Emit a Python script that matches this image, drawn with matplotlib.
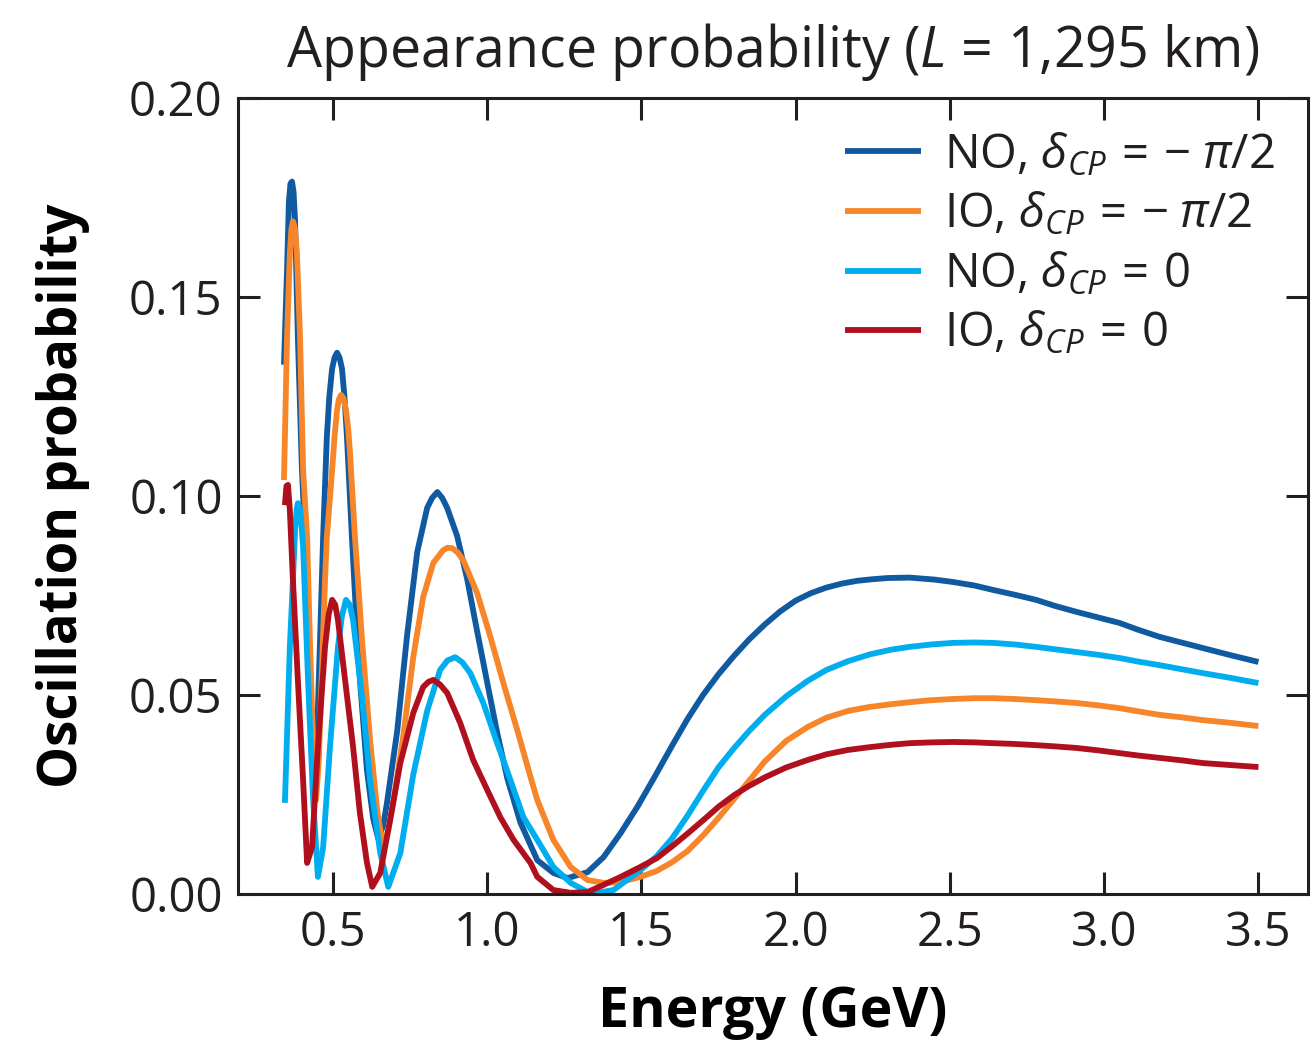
import matplotlib
matplotlib.use("Agg")
import matplotlib.pyplot as plt
from matplotlib.ticker import FixedLocator, FormatStrFormatter

# ---- data: (energy in GeV, probability) ----
no_minus_half_pi = [
    (0.342, 0.133), (0.352, 0.157), (0.358, 0.174), (0.363, 0.1785), (0.368, 0.179),
    (0.373, 0.1765), (0.378, 0.169), (0.387, 0.140), (0.400, 0.107), (0.410, 0.090),
    (0.420, 0.064), (0.430, 0.039), (0.439, 0.026), (0.449, 0.039), (0.459, 0.064),
    (0.469, 0.090), (0.481, 0.115), (0.489, 0.125), (0.498, 0.132), (0.506, 0.1348),
    (0.514, 0.136), (0.522, 0.1348), (0.530, 0.132), (0.538, 0.125), (0.546, 0.115),
    (0.562, 0.090), (0.575, 0.071), (0.588, 0.054), (0.611, 0.031), (0.631, 0.019),
    (0.647, 0.014), (0.663, 0.017), (0.676, 0.023), (0.709, 0.041), (0.741, 0.065),
    (0.774, 0.086), (0.806, 0.097), (0.822, 0.0995), (0.839, 0.101), (0.855, 0.0995),
    (0.871, 0.097), (0.903, 0.090), (0.936, 0.079), (0.968, 0.066), (1.001, 0.053),
    (1.033, 0.0405), (1.066, 0.029), (1.108, 0.018), (1.163, 0.0085), (1.215, 0.0053),
    (1.261, 0.004), (1.326, 0.0055), (1.378, 0.0093), (1.433, 0.0153), (1.488, 0.022),
    (1.540, 0.029), (1.60, 0.0373), (1.65, 0.0440), (1.70, 0.0500), (1.75, 0.0552),
    (1.80, 0.0598), (1.85, 0.0640), (1.90, 0.0677), (1.95, 0.0710), (2.00, 0.0737),
    (2.05, 0.0756), (2.10, 0.0770), (2.15, 0.0780), (2.20, 0.0787), (2.25, 0.0791),
    (2.30, 0.0794), (2.37, 0.0795), (2.45, 0.0790), (2.51, 0.0784), (2.58, 0.0775),
    (2.64, 0.0764), (2.71, 0.0752), (2.78, 0.0739), (2.84, 0.0724), (2.91, 0.0709),
    (2.98, 0.0695), (3.05, 0.0681), (3.11, 0.0664), (3.18, 0.0646), (3.25, 0.0632),
    (3.32, 0.0618), (3.41, 0.0600), (3.50, 0.0583),
]

io_minus_half_pi = [
    (0.342, 0.104), (0.352, 0.140), (0.361, 0.161), (0.366, 0.167), (0.371, 0.169),
    (0.377, 0.1675), (0.384, 0.161), (0.394, 0.140), (0.404, 0.1065), (0.417, 0.0897),
    (0.426, 0.0638), (0.436, 0.0387), (0.446, 0.0236), (0.455, 0.0337), (0.465, 0.0563),
    (0.475, 0.0789), (0.481, 0.0897), (0.498, 0.1065), (0.506, 0.115), (0.514, 0.1216),
    (0.520, 0.1243), (0.527, 0.1254), (0.535, 0.1245), (0.543, 0.1216), (0.550, 0.117),
    (0.556, 0.1108), (0.572, 0.0897), (0.595, 0.0638), (0.621, 0.0387), (0.644, 0.0211),
    (0.663, 0.0118), (0.680, 0.0161), (0.696, 0.0229), (0.728, 0.0394), (0.761, 0.0595),
    (0.793, 0.0746), (0.826, 0.0832), (0.858, 0.0864), (0.872, 0.0870), (0.887, 0.0869),
    (0.905, 0.0858), (0.923, 0.0839), (0.968, 0.0756), (1.011, 0.0646), (1.053, 0.0530),
    (1.098, 0.0412), (1.141, 0.0294), (1.163, 0.0236), (1.215, 0.0136), (1.271, 0.0068),
    (1.326, 0.0035), (1.378, 0.0028), (1.433, 0.0030), (1.497, 0.0043), (1.55, 0.0058),
    (1.60, 0.0080), (1.65, 0.0108), (1.70, 0.0147), (1.75, 0.0191), (1.80, 0.0238),
    (1.85, 0.0285), (1.90, 0.0333), (1.97, 0.0385), (2.04, 0.0420), (2.10, 0.0443),
    (2.17, 0.0460), (2.24, 0.0470), (2.31, 0.0477), (2.37, 0.0482), (2.44, 0.0487),
    (2.51, 0.0490), (2.58, 0.0492), (2.64, 0.0492), (2.71, 0.0490), (2.78, 0.0487),
    (2.84, 0.0484), (2.91, 0.0480), (2.98, 0.0474), (3.05, 0.0467), (3.11, 0.0459),
    (3.18, 0.0450), (3.25, 0.0444), (3.32, 0.0437), (3.41, 0.0430), (3.50, 0.0422),
]

no_zero = [
    (0.345, 0.0229), (0.361, 0.0621), (0.370, 0.0770), (0.378, 0.0915), (0.383, 0.0965),
    (0.387, 0.0982), (0.395, 0.0965), (0.404, 0.0872), (0.420, 0.0538), (0.436, 0.0244),
    (0.452, 0.0043), (0.469, 0.0118), (0.491, 0.0369), (0.517, 0.0621), (0.530, 0.0700),
    (0.543, 0.0739), (0.555, 0.0727), (0.566, 0.0688), (0.595, 0.0495), (0.621, 0.0286),
    (0.654, 0.0103), (0.680, 0.0018), (0.719, 0.0103), (0.761, 0.0300), (0.806, 0.0460),
    (0.848, 0.0563), (0.872, 0.0587), (0.897, 0.0595), (0.920, 0.0582), (0.946, 0.0555),
    (0.988, 0.0480), (1.033, 0.0379), (1.076, 0.0286), (1.118, 0.0193), (1.163, 0.0136),
    (1.215, 0.0068), (1.271, 0.0028), (1.326, 0.0005), (1.358, 0.0003), (1.410, 0.0010),
    (1.497, 0.0060), (1.55, 0.0095), (1.60, 0.0140), (1.65, 0.0197), (1.70, 0.0259),
    (1.75, 0.0318), (1.80, 0.0366), (1.85, 0.0410), (1.90, 0.0450), (1.97, 0.0497),
    (2.04, 0.0536), (2.10, 0.0563), (2.17, 0.0585), (2.24, 0.0602), (2.31, 0.0614),
    (2.37, 0.0621), (2.44, 0.0627), (2.51, 0.0631), (2.58, 0.0632), (2.64, 0.0631),
    (2.71, 0.0627), (2.78, 0.0621), (2.84, 0.0615), (2.91, 0.0608), (2.98, 0.0601),
    (3.05, 0.0593), (3.11, 0.0584), (3.18, 0.0575), (3.25, 0.0565), (3.32, 0.0555),
    (3.41, 0.0543), (3.50, 0.0530),
]

io_zero = [
    (0.345, 0.0977), (0.350, 0.1025), (0.355, 0.1028), (0.361, 0.0965), (0.371, 0.0789),
    (0.387, 0.0538), (0.404, 0.0286), (0.417, 0.0078), (0.433, 0.0118), (0.452, 0.0369),
    (0.475, 0.0621), (0.487, 0.0703), (0.498, 0.0739), (0.508, 0.0727), (0.517, 0.0688),
    (0.540, 0.0538), (0.566, 0.0369), (0.588, 0.0204), (0.611, 0.0078), (0.628, 0.0018),
    (0.654, 0.0053), (0.686, 0.0186), (0.719, 0.0329), (0.761, 0.0455), (0.793, 0.0520),
    (0.810, 0.0533), (0.826, 0.0538), (0.848, 0.0526), (0.871, 0.0505), (0.913, 0.0430),
    (0.955, 0.0337), (1.001, 0.0261), (1.043, 0.0193), (1.086, 0.0136), (1.141, 0.0078),
    (1.163, 0.0043), (1.215, 0.0010), (1.271, 0.0003), (1.326, 0.0005), (1.378, 0.0023),
    (1.433, 0.0043), (1.497, 0.0068), (1.55, 0.0090), (1.60, 0.0120), (1.65, 0.0152),
    (1.70, 0.0185), (1.75, 0.0219), (1.80, 0.0248), (1.85, 0.0272), (1.90, 0.0293),
    (1.97, 0.0318), (2.04, 0.0337), (2.10, 0.0351), (2.17, 0.0362), (2.24, 0.0369),
    (2.31, 0.0375), (2.37, 0.0379), (2.44, 0.0381), (2.51, 0.0382), (2.58, 0.0381),
    (2.64, 0.0379), (2.71, 0.0377), (2.78, 0.0374), (2.84, 0.0371), (2.91, 0.0367),
    (2.98, 0.0361), (3.05, 0.0354), (3.11, 0.0348), (3.18, 0.0342), (3.25, 0.0336),
    (3.32, 0.0329), (3.41, 0.0324), (3.50, 0.0319),
]

series_labels = [r"NO, $\delta_{CP}\,{=}\,{-}\;\pi/2$",
                 r"IO, $\delta_{CP}\,{=}\,{-}\;\pi/2$",
                 r"NO, $\delta_{CP}\,{=}\,0$",
                 r"IO, $\delta_{CP}\,{=}\,0$"]
series_colors = ["#0F5AA0", "#F7862B", "#00AEEF", "#B0101E"]

x_ticks = [0.5, 1.0, 1.5, 2.0, 2.5, 3.0, 3.5]
y_ticks = [0.00, 0.05, 0.10, 0.15, 0.20]

# ---- style ----
plt.rcParams["font.family"] = ["Open Sans", "DejaVu Sans"]
plt.rcParams["mathtext.fontset"] = "custom"
plt.rcParams["mathtext.rm"] = "Open Sans"
plt.rcParams["mathtext.it"] = "Open Sans:italic"
plt.rcParams["mathtext.bf"] = "Open Sans:bold"
plt.rcParams["text.color"] = "#231F20"
plt.rcParams["axes.edgecolor"] = "#231F20"
plt.rcParams["xtick.color"] = "#231F20"
plt.rcParams["ytick.color"] = "#231F20"

fig = plt.figure(figsize=(13.12, 10.46), dpi=100)
ax = fig.add_axes([0.1814, 0.1453, 0.8154, 0.7610])

all_series = [no_minus_half_pi, io_minus_half_pi, no_zero, io_zero]
for pts, lab, col in zip(all_series, series_labels, series_colors):
    e, p = zip(*pts)
    ax.plot(e, p, color=col, lw=4.2, label=lab, solid_capstyle="butt",
            solid_joinstyle="round")

ax.set_xlim(0.193, 3.66)
ax.set_ylim(0.0, 0.2)
ax.xaxis.set_major_locator(FixedLocator(x_ticks))
ax.yaxis.set_major_locator(FixedLocator(y_ticks))
ax.xaxis.set_major_formatter(FormatStrFormatter("%.1f"))
ax.yaxis.set_major_formatter(FormatStrFormatter("%.2f"))

for s in ax.spines.values():
    s.set_linewidth(2.2)
ax.tick_params(direction="in", length=16, width=2.2, top=True, right=True,
               labelsize=34)
ax.tick_params(axis="x", pad=11)
ax.tick_params(axis="y", pad=11)

ax.set_title(r"Appearance probability ($L$ = 1,295 km)", fontsize=40, pad=22)
ax.set_xlabel("Energy (GeV)", fontsize=40, fontweight="bold", labelpad=20)
ax.set_ylabel("Oscillation probability", fontsize=38, fontweight="bold", labelpad=28)

ax.legend(loc="upper right", bbox_to_anchor=(1.0, 1.0), frameon=False,
          fontsize=34, handlelength=1.6, handletextpad=0.5, labelspacing=0.25,
          borderaxespad=0.3)

fig.savefig("out.png", dpi=100)
